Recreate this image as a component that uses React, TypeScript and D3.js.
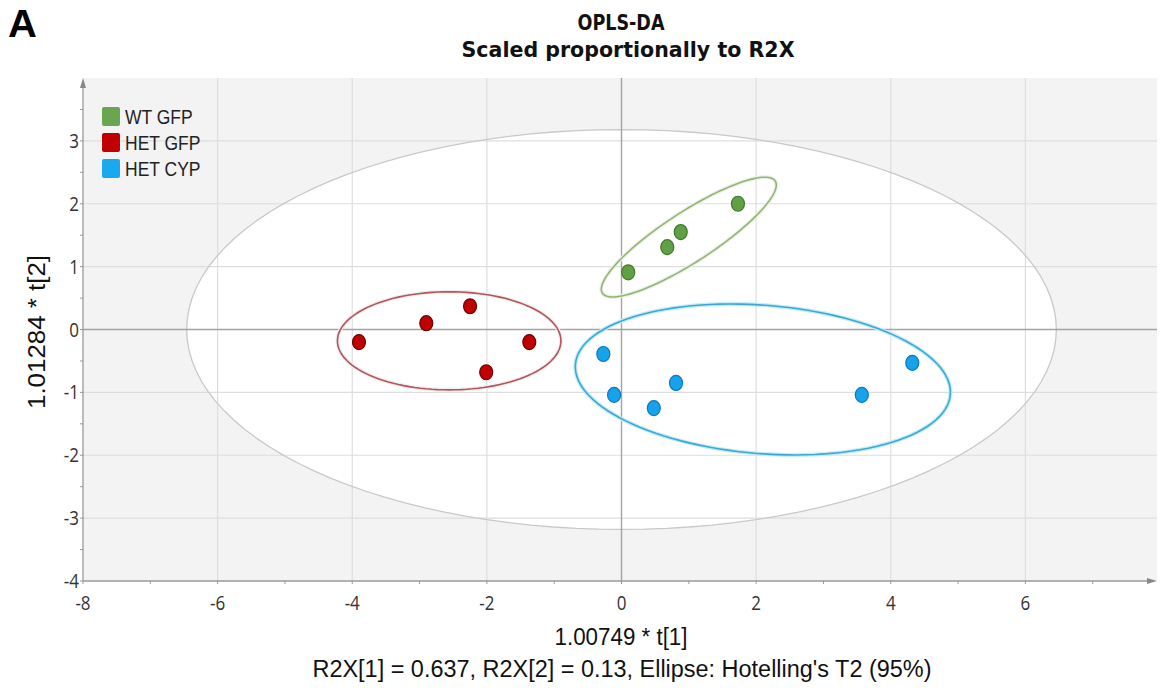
import React from "react";
import * as d3 from "d3";

const groups = ["WT GFP", "HET GFP", "HET CYP"];
const groupColors = ["#62a046", "#c00000", "#16a3ec"];
const legendColors = ["#6aa552", "#c00000", "#1aa8ef"];
const pointStroke = ["#3f7a2c", "#6e0000", "#0b78bf"];

const wtX = [0.10, 0.68, 0.88, 1.73];
const wtY = [0.91, 1.31, 1.55, 2.00];
const hetGfpX = [-3.90, -2.90, -2.25, -1.37, -2.01];
const hetGfpY = [-0.20, 0.10, 0.37, -0.20, -0.68];
const hetCypX = [-0.27, -0.11, 0.48, 0.81, 3.57, 4.32];
const hetCypY = [-0.39, -1.04, -1.25, -0.85, -1.04, -0.53];

// group ellipses: center + two conjugate semi-axis vectors (data units)
const ellipseCenters = [[1.00, 1.47], [-2.56, -0.18], [2.10, -0.795]];
const ellipseAxis1 = [[1.284, 0.892], [1.66, 0], [2.785, -0.24]];
const ellipseAxis2 = [[0.202, -0.334], [0, 0.78], [-0.088, -1.176]];
const ellipseColors = ["#8fb86c", "#b5545c", "#3aa9d4"];

// Hotelling's T2 ellipse
const t2Radii = [6.46, 3.18];

const xTicks = [-8, -6, -4, -2, 0, 2, 4, 6];
const xMinor = [-7, -5, -3, -1, 1, 3, 5, 7];
const yTicks = [-4, -3, -2, -1, 0, 1, 2, 3];
const yMinor = [-3.5, -2.5, -1.5, -0.5, 0.5, 1.5, 2.5, 3.5];

const S = 1.15;

function Txt({ x, y, children, size, weight, anchor, fill, family, rotate, sy, len }: any) {
  const t = `translate(${x},${y})${rotate ? ` rotate(${rotate})` : ""} scale(1,${sy ?? S})`;
  const extra: any = len ? { textLength: len, lengthAdjust: "spacingAndGlyphs" } : {};
  return (
    <text
      transform={t}
      fontSize={size}
      fontWeight={weight || "normal"}
      textAnchor={anchor || "start"}
      fill={fill || "#111"}
      fontFamily={family || "'Liberation Sans', Arial, sans-serif"}
      {...extra}
    >
      {children}
    </text>
  );
}

export default function App() {
  const W = 1161, H = 691;
  const x = d3.scaleLinear().domain([-8, 8]).range([83, 1160]);
  const y = d3.scaleLinear().domain([-4, 4]).range([581, 78]);
  const left = x(-8), right = 1157, top = y(4), bottom = y(-4);

  const ellipsePath = (cx: number, cy: number, u: number[], v: number[]) => {
    const ts = d3.range(0, 361, 3).map((d) => (d * Math.PI) / 180);
    const line = d3.line<number>()
      .x((t) => x(cx + u[0] * Math.cos(t) + v[0] * Math.sin(t)))
      .y((t) => y(cy + u[1] * Math.cos(t) + v[1] * Math.sin(t)))
      .curve(d3.curveLinearClosed);
    return line(ts) as string;
  };

  const t2 = ellipsePath(0, 0, [t2Radii[0], 0], [0, t2Radii[1]]);
  const groupXs = [wtX, hetGfpX, hetCypX];
  const groupYs = [wtY, hetGfpY, hetCypY];
  const titleFont = "'DejaVu Sans', Verdana, sans-serif";

  return (
    <svg width={W} height={H} style={{ position: "absolute", left: 0, top: 0, background: "#fff" }}>
      <rect x={0} y={0} width={W} height={H} fill="#fff" />
      <Txt x={8} y={37} size={40} weight="bold" fill="#000" sy={0.95}>A</Txt>
      <Txt x={621} y={30} size={17} weight="bold" anchor="middle" family={titleFont} sy={1.2} len={87}>OPLS-DA</Txt>
      <Txt x={628} y={57} size={17} weight="bold" anchor="middle" family={titleFont} sy={1.2} len={333}>Scaled proportionally to R2X</Txt>

      {/* plot background */}
      <rect x={left} y={top} width={right - left} height={bottom - top} fill="#f3f3f3" />
      <path d={t2} fill="#fff" stroke="none" />

      {/* grid */}
      {xTicks.filter((d) => d !== -8 && d !== 0).map((d) => (
        <line key={"gx" + d} x1={x(d)} x2={x(d)} y1={top} y2={bottom} stroke="#dedede" strokeWidth={1.2} />
      ))}
      {yTicks.filter((d) => d !== -4 && d !== 0).map((d) => (
        <line key={"gy" + d} x1={left} x2={right} y1={y(d)} y2={y(d)} stroke="#dedede" strokeWidth={1.2} />
      ))}
      <path d={t2} fill="none" stroke="#c9c9c9" strokeWidth={1.3} />
      <line x1={x(0)} x2={x(0)} y1={top} y2={bottom} stroke="#a3a3a3" strokeWidth={1.4} />
      <line x1={left} x2={right} y1={y(0)} y2={y(0)} stroke="#a3a3a3" strokeWidth={1.4} />

      {/* axes */}
      <line x1={left} x2={left} y1={bottom} y2={top + 4} stroke="#9a9a9a" strokeWidth={1.3} />
      <path d={`M${left - 3},${top + 10} L${left},${top} L${left + 3},${top + 10} Z`} fill="#888" />
      <line x1={left} x2={right - 4} y1={bottom} y2={bottom} stroke="#9a9a9a" strokeWidth={1.3} />
      <path d={`M${right - 10},${bottom - 3} L${right},${bottom} L${right - 10},${bottom + 3} Z`} fill="#888" />
      {xTicks.concat(xMinor).map((d) => (
        <line key={"tx" + d} x1={x(d)} x2={x(d)} y1={bottom} y2={bottom + 3} stroke="#999" strokeWidth={1} />
      ))}
      {yTicks.concat(yMinor).map((d) => (
        <line key={"ty" + d} x1={left - 3} x2={left} y1={y(d)} y2={y(d)} stroke="#999" strokeWidth={1} />
      ))}
      {xTicks.map((d) => (
        <Txt key={"lx" + d} x={x(d)} y={bottom + 29} size={17} anchor="middle" fill="#333" family="'Open Sans', sans-serif" sy={1.2}>{d}</Txt>
      ))}
      {yTicks.map((d) => (
        <Txt key={"ly" + d} x={79} y={y(d) + 7} size={17} anchor="end" fill="#333" family="'Open Sans', sans-serif" sy={1.2}>{d}</Txt>
      ))}

      {/* group ellipses */}
      {ellipseCenters.map((c, i) => {
        const p = ellipsePath(c[0], c[1], ellipseAxis1[i], ellipseAxis2[i]);
        return (
          <g key={"e" + i}>
            <path d={p} fill="none" stroke={i === 2 ? "#c4ebf8" : "#eeeeee"} strokeWidth={4} />
            <path d={p} fill="none" stroke={ellipseColors[i]} strokeWidth={1.6} />
          </g>
        );
      })}

      {/* points */}
      {groupXs.map((xs, gi) =>
        xs.map((v, j) => (
          <ellipse key={`p${gi}-${j}`} cx={x(v)} cy={y(groupYs[gi][j])} rx={6.5} ry={7.5}
            fill={groupColors[gi]} stroke={pointStroke[gi]} strokeWidth={1.2} />
        ))
      )}

      {/* legend */}
      {groups.map((g, i) => (
        <g key={"lg" + i}>
          <rect x={102} y={107 + i * 26} width={18} height={19} rx={2} fill={legendColors[i]} />
          <Txt x={125} y={124 + i * 26} size={17.5} fill="#222">{g}</Txt>
        </g>
      ))}

      {/* axis titles */}
      <Txt x={621} y={645} size={21} anchor="middle" fill="#111" len={133}>1.00749 * t[1]</Txt>
      <Txt x={622} y={677} size={20} anchor="middle" fill="#111" len={619}>R2X[1] = 0.637, R2X[2] = 0.13, Ellipse: Hotelling's T2 (95%)</Txt>
      <Txt x={45} y={332} size={22} anchor="middle" fill="#111" rotate={-90} sy={1.05} len={154}>1.01284 * t[2]</Txt>
    </svg>
  );
}
